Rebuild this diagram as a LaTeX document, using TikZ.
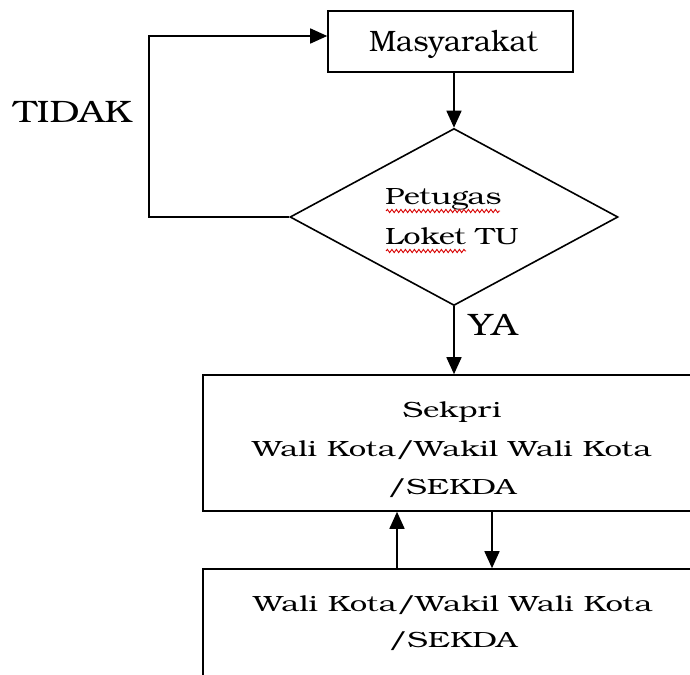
\documentclass[tikz,border=0pt]{standalone}
\usepackage{fontspec}
\setmainfont{TeX Gyre Bonum}
\newfontfamily\fmasy{TeX Gyre Bonum}
\newfontfamily\fdiatxt[FakeStretch=1.31]{TeX Gyre Bonum}
\newfontfamily\fboxtxt[FakeStretch=1.41]{TeX Gyre Bonum}
\newfontfamily\flabtxt[FakeStretch=1.22]{TeX Gyre Bonum}
\usetikzlibrary{shapes.geometric,arrows.meta,decorations.pathmorphing}
\begin{document}
\begin{tikzpicture}[x=1pt,y=-1pt,
  line width=1.6pt,
  box/.style={draw,rectangle,inner sep=0pt},
  txt/.style={inner sep=0pt,outer sep=0pt},
  arr/.style={-{Triangle[length=17pt,width=15pt]}},
  squig/.style={draw=red!85!black,line width=0.9pt,decorate,decoration={snake,amplitude=1.6pt,segment length=4.5pt}}]
\clip (0,0) rectangle (690,674);
\fill[white] (0,0) rectangle (690,674);
% boxes
\node[box,minimum width=245pt,minimum height=61pt] (masy) at (450.5,41.5) {};
\node[draw,diamond,aspect=1.85,inner sep=0pt,minimum width=328pt,minimum height=177pt] (dia) at (454,217) {};
\node[box,minimum width=498pt,minimum height=136pt] (sek) at (452,443) {};
\node[box,minimum width=498pt,minimum height=110pt] (wali) at (452,624) {};
% texts
\node[txt,anchor=base,font=\fmasy\fontsize{29.5}{32}\selectfont] (tmasy) at (453.5,52) {Masyarakat};
\node[txt,anchor=west,align=left,font=\fdiatxt\fontsize{23.5}{40}\selectfont] (tdia) at (385,217) {Petugas\\Loket TU};
\node[txt,align=center,font=\fboxtxt\fontsize{22}{38.5}\selectfont] (tsek) at (452,450) {Sekpri\\Wali Kota/Wakil Wali Kota\\/SEKDA};
\node[txt,align=center,font=\fboxtxt\fontsize{22}{36}\selectfont] (twali) at (453,623.5) {Wali Kota/Wakil Wali Kota\\/SEKDA};
\node[txt,anchor=base,font=\flabtxt\fontsize{31}{34}\selectfont] (tidak) at (72.5,123) {TIDAK};
\node[txt,anchor=base,font=\flabtxt\fontsize{31}{34}\selectfont] (ya) at (493,335) {YA};
% connectors
\coordinate (loopc) at (149,217);
\draw[arr] (dia.north |- masy.south) -- (dia.north);
\draw[arr] (dia.west) -- (loopc) |- ([yshift=5.5pt]masy.west);
\draw[arr] (dia.south) -- (dia.south |- sek.north);
\draw[arr] (wali.north -| 397,0) -- (sek.south -| 397,0);
\draw[arr] (sek.south -| 492,0) -- (wali.north -| 492,0);
% spell-check squiggles
\draw[squig] (386,211) -- (500,211);
\draw[squig] (386,251) -- (466,251);
\end{tikzpicture}
\end{document}
